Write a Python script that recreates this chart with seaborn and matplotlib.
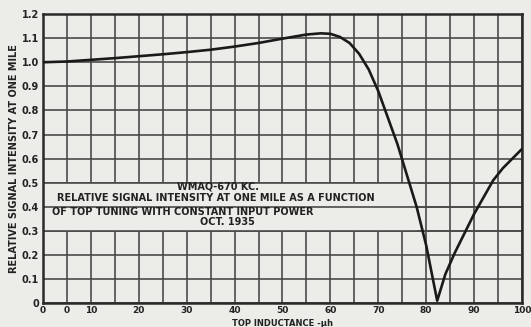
import matplotlib
matplotlib.use("Agg")
import matplotlib.pyplot as plt
import seaborn as sns
import numpy as np
import pandas as pd

# Relative signal intensity vs top inductance
inductance = [0, 5, 10, 15, 20, 25, 30, 35, 40, 45, 50, 55, 58, 60, 62, 64, 66,
              68, 70, 72, 74, 76, 78, 80, 81, 82.3, 84, 86, 88, 90, 92, 94, 96, 98, 100]
intensity = [1.000, 1.003, 1.010, 1.017, 1.025, 1.033, 1.042, 1.052, 1.065, 1.080,
             1.098, 1.115, 1.120, 1.118, 1.105, 1.080, 1.035, 0.970, 0.880, 0.770,
             0.660, 0.530, 0.400, 0.240, 0.140, 0.010, 0.120, 0.210, 0.290, 0.370,
             0.440, 0.510, 0.560, 0.600, 0.640]

x_ticks = [0, 5, 10, 20, 30, 40, 50, 60, 70, 80, 90, 100]
x_labels = ['0', '0', '10', '20', '30', '40', '50', '60', '70', '80', '90', '100']
y_ticks = [0, 0.1, 0.2, 0.3, 0.4, 0.5, 0.6, 0.7, 0.8, 0.9, 1.0, 1.1, 1.2]
y_labels = ['0', '0.1', '0.2', '0.3', '0.4', '0.5', '0.6', '0.7', '0.8', '0.9', '1.0', '1.1', '1.2']

df = pd.DataFrame({'Inductance': inductance, 'Intensity': intensity})

paper = '#ecece8'
ink = '#4a4a4a'

sns.set_style('whitegrid', {'axes.facecolor': paper, 'figure.facecolor': paper,
                            'grid.color': ink, 'axes.edgecolor': ink})
plt.rcParams['font.family'] = ['DejaVu Sans']

fig = plt.figure(figsize=(5.31, 3.27), dpi=100)
ax = fig.add_axes([0.081, 0.073, 0.902, 0.884])

# grid every 5 units / 0.1
ax.set_xticks(np.arange(0, 101, 5), minor=True)
ax.grid(True, which='both', color=ink, linewidth=1.2)
ax.set_axisbelow(True)

# caption panel blanks out the grid
ax.fill_between([0, 78], 0.3, 0.5, color=paper, zorder=1.5, linewidth=0)
for yy in (0.3, 0.4, 0.5):
    ax.plot([0, 100], [yy, yy], color=ink, linewidth=1.2, zorder=1.6)

sns.lineplot(data=df, x='Inductance', y='Intensity', color='#1a1a1a',
             linewidth=1.9, ax=ax, zorder=3)

ax.set_xlim(0, 100)
ax.set_ylim(0, 1.2)
ax.set_xticks(x_ticks)
ax.set_xticklabels(x_labels)
ax.set_yticks(y_ticks)
ax.set_yticklabels(y_labels)
ax.tick_params(length=0, labelsize=7, pad=3, colors='#222222')
ax.tick_params(axis='x', labelsize=6.5, pad=2)
for lab in ax.get_xticklabels() + ax.get_yticklabels():
    lab.set_fontweight('bold')
for s in ax.spines.values():
    s.set_linewidth(1.8)
    s.set_color('#2a2a2a')

ax.set_xlabel('TOP INDUCTANCE -\u03bch', fontsize=6, fontweight='bold',
              color='#222222', va='center')
ax.xaxis.set_label_coords(0.5, -0.07)
ax.set_ylabel('RELATIVE SIGNAL INTENSITY AT ONE MILE', fontsize=7,
              fontweight='bold', labelpad=2, color='#222222')

tk = dict(fontsize=7, fontweight='bold', color='#222222', zorder=4, va='center')
ax.text(36.5, 0.485, 'WMAQ-670 KC.', ha='center', **tk)
ax.text(2.9, 0.436, 'RELATIVE SIGNAL INTENSITY AT ONE MILE AS A FUNCTION', ha='left', **tk)
ax.text(1.9, 0.38, 'OF TOP TUNING WITH CONSTANT INPUT POWER', ha='left', **tk)
ax.text(38.5, 0.336, 'OCT. 1935', ha='center', **tk)

fig.savefig('out.png', dpi=100, facecolor=paper)
